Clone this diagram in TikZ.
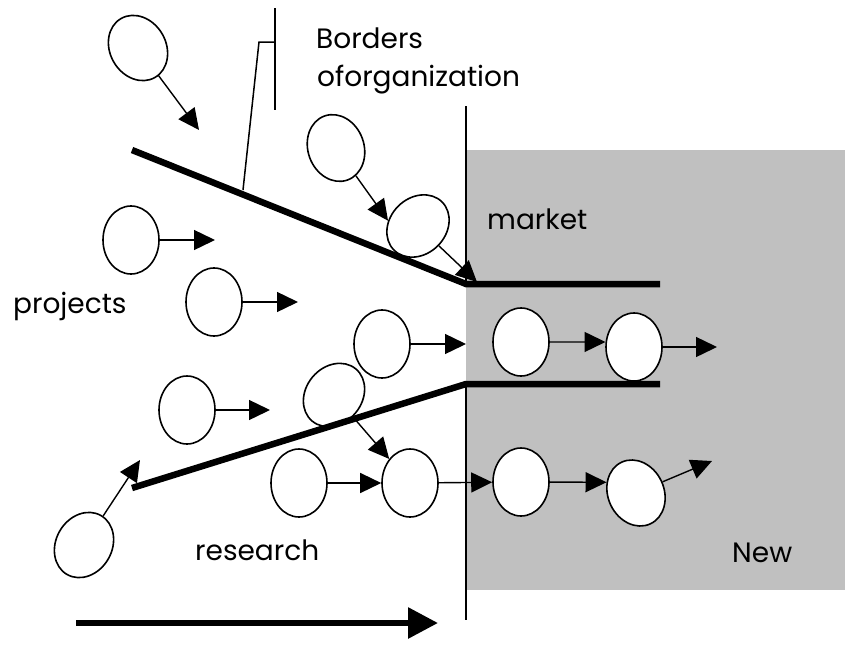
\documentclass[tikz,border=0pt]{standalone}
\usepackage{fontspec}
\setmainfont{Poppins}
\usetikzlibrary{shapes.geometric,arrows.meta}
\definecolor{marketgray}{HTML}{C0C0C0}
\tikzset{
  blob/.style={draw=black, line width=1.6pt, fill=white, ellipse, minimum width=56pt, minimum height=68pt, inner sep=0pt},
  flow/.style={draw=black, line width=1.4pt, -{Triangle[length=21pt,width=20pt]}},
  border/.style={draw=black, line width=6.5pt},
  lbl/.style={anchor=base west, inner sep=0pt, font=\fontsize{28}{33}\selectfont}
}
\begin{document}
\begin{tikzpicture}[x=1pt,y=-1pt]
\useasboundingbox (0,0) rectangle (845,645);
\fill[marketgray] (466,150) rectangle (845,590);
\draw[black, line width=1.5pt] (466,106) -- (466,284);
\draw[black, line width=1.5pt] (466,384) -- (466,620);
\coordinate (bt) at (275,8);
\coordinate (bb) at (275,110);
\coordinate (bk) at (259,42);
\coordinate (bl) at (243,190);
\draw[black, line width=1.5pt] (bt) -- (bb);
\draw[black, line width=1.5pt] (bt |- bk) -- (bk) -- (bl);
\node[blob, rotate=30] (p1) at (138,48) {};
\node[blob] (p2) at (131,240) {};
\node[blob] (p3) at (214,302) {};
\node[blob, rotate=20] (p4) at (336,148) {};
\node[blob, rotate=-45] (p5) at (418,226) {};
\node[blob] (p6) at (382,344) {};
\node[blob] (m1) at (521,342) {};
\node[blob] (m2) at (634,347) {};
\node[blob] (p7) at (187,410) {};
\node[blob, rotate=-40] (r1) at (334,395) {};
\node[blob] (r2) at (299,483) {};
\node[blob] (r3) at (410,483) {};
\node[blob] (n1) at (521,482) {};
\node[blob, rotate=25] (n2) at (636,493) {};
\node[blob, rotate=-30] (r4) at (84,545) {};
\coordinate (t1) at (199,130);
\coordinate (t2) at (215,240);
\coordinate (t3) at (298,302);
\coordinate (t5) at (477,282);
\coordinate (t6) at (466,344);
\coordinate (t8) at (717,347);
\coordinate (t9) at (270,410);
\coordinate (t14) at (712,461);
\coordinate (t15) at (140,460);
\draw[flow] (p1) -- (t1);
\draw[flow] (p2) -- (t2);
\draw[flow] (p3) -- (t3);
\draw[flow] (p4) -- (p5.215);
\draw[flow] (p5) -- (t5);
\draw[flow] (p6) -- (t6);
\draw[flow] (m1) -- (m2.170);
\draw[flow] (m2) -- (t8);
\draw[flow] (p7) -- (t9);
\draw[flow] (r1) -- (r3);
\draw[flow] (r2) -- (r3);
\draw[flow] (r3) -- (n1);
\draw[flow] (n1) -- (n2.135);
\draw[flow] (n2) -- (t14);
\draw[flow] (r4) -- (t15);
\draw[border] (132,150) -- (466,284) -- (660,284);
\draw[border] (132,488) -- (466,384) -- (660,384);
\coordinate (ra) at (76,623);
\coordinate (rb) at (438,623);
\draw[black, line width=6pt, -{Triangle[length=30pt,width=30pt]}] (ra) -- (rb);
\node[lbl] (bord) at (316,48) {Borders};
\node[lbl] (org) at (317,86) {oforganization};
\node[lbl] (proj) at (13,313) {projects};
\node[lbl] (mkt) at (487,229) {market};
\node[lbl] (res) at (195,560) {research};
\node[lbl] (new) at (732,562) {New};
\end{tikzpicture}
\end{document}
